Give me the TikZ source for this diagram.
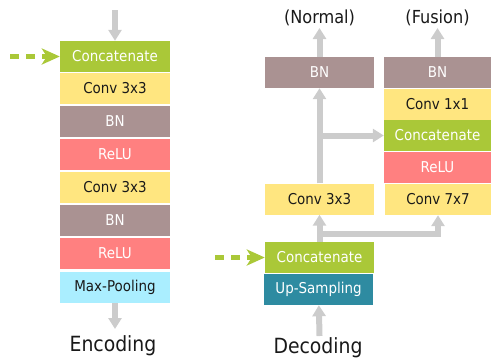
\documentclass[tikz,border=0pt]{standalone}
\usepackage{fontspec}
\setmainfont{DejaVu Sans Condensed}
\usetikzlibrary{arrows.meta}

\definecolor{catgreen}{RGB}{170,200,56}
\definecolor{convyellow}{RGB}{255,230,128}
\definecolor{bnbrown}{RGB}{170,146,146}
\definecolor{relured}{RGB}{255,128,128}
\definecolor{poolcyan}{RGB}{170,238,255}
\definecolor{upteal}{RGB}{46,139,161}
\definecolor{flowgray}{RGB}{204,204,204}
\definecolor{inkdark}{RGB}{25,25,25}

\tikzset{
  layer/.style={rectangle, inner sep=0pt, minimum height=31bp,
    font=\fontsize{15}{17}\selectfont},
  wide/.style={minimum width=110bp},
  cat/.style={layer, fill=catgreen, text=white},
  conv/.style={layer, fill=convyellow, text=inkdark},
  bn/.style={layer, fill=bnbrown, text=white},
  relu/.style={layer, fill=relured, text=white},
  pool/.style={layer, fill=poolcyan, text=inkdark},
  upsamp/.style={layer, fill=upteal, text=white},
  flow/.style={draw=flowgray, line width=6bp,
    -{Triangle[width=13bp,length=11bp]}},
  skip/.style={draw=catgreen, line width=5bp, dash pattern=on 9bp off 7bp,
    -{Stealth[width=16bp,length=18bp,inset=5bp]}},
  caption/.style={font=\fontsize{21}{24}\selectfont, text=inkdark},
  branchlabel/.style={font=\fontsize{18}{20}\selectfont, text=inkdark}
}

\begin{document}
\begin{tikzpicture}[x=1bp, y=-1bp]
  \useasboundingbox (0,0) rectangle (491,358);

  % encoder block
  \node[cat, wide]  (ecat)   at (115,56.5)  {Concatenate};
  \node[conv, wide] (econv1) at (115,88.5)  {Conv 3x3};
  \node[bn, wide]   (ebn1)   at (115,121.5) {BN};
  \node[relu, wide] (erelu1) at (115,154.5) {ReLU};
  \node[conv, wide] (econv2) at (115,187.5) {Conv 3x3};
  \node[bn, wide]   (ebn2)   at (115,220.5) {BN};
  \node[relu, wide] (erelu2) at (115,253.5) {ReLU};
  \node[pool, wide] (epool)  at (115,287.5) {Max-Pooling};
  \node[caption]    (enclab) at (113,346)   {Encoding};

  \coordinate (ein)   at (115,10);
  \coordinate (eout)  at (115,329);
  \coordinate (eskip) at (10,56.5);
  \draw[flow] (ein) -- (ecat);
  \draw[flow] (epool) -- (eout);
  \draw[skip] (eskip) -- (ecat);

  % decoder block, normal path
  \node[upsamp, minimum width=109bp] (dup)   at (318.5,289.5) {Up-Sampling};
  \node[cat, minimum width=109bp]    (dcat)  at (319.5,257.5) {Concatenate};
  \node[conv, minimum width=109bp]   (dconv) at (319.5,199)   {Conv 3x3};
  \node[bn, minimum width=109bp]     (nbn)   at (319.5,72.5)  {BN};
  \node[caption]      (declab) at (318,348) {Decoding};
  \node[branchlabel]  (normlab) at (319.5,18) {(Normal)};

  % decoder block, fusion path
  \node[bn, minimum width=107bp]   (fbn)   at (437.5,72.5)  {BN};
  \node[conv, minimum width=107bp] (fconv1) at (437.5,104)  {Conv 1x1};
  \node[cat, minimum width=107bp]  (fcat)  at (437.5,135.5) {Concatenate};
  \node[relu, minimum width=107bp] (frelu) at (437.5,167.5) {ReLU};
  \node[conv, minimum width=106bp] (fconv7) at (438,199.5)  {Conv 7x7};
  \node[branchlabel]  (fuslab) at (437.5,18) {(Fusion)};

  \coordinate (din)   at (319.5,336);
  \coordinate (dskip) at (215,257.5);
  \coordinate (split) at (319.5,234);
  \coordinate (tap)   at (319.5,135.5);
  \coordinate (nout)  at (319.5,28);
  \coordinate (fout)  at (437.5,28);

  \draw[flow] (din) -- (dup);
  \draw[skip] (dskip) -- (dcat);
  \draw[flow] (dcat) -- (dconv);
  \draw[flow] (split) -| (fconv7.south);
  \draw[flow] (dconv) -- (nbn);
  \draw[flow] (tap) -- (fcat.west);
  \draw[flow] (nbn) -- (nout);
  \draw[flow] (fbn) -- (fout);
\end{tikzpicture}
\end{document}
